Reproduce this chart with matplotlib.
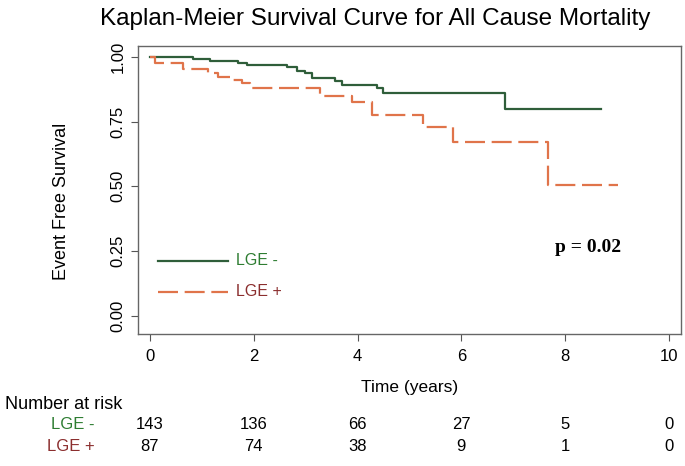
import matplotlib
matplotlib.use("Agg")
import matplotlib.pyplot as plt
import matplotlib.transforms as mtransforms

plt.rcParams["font.family"] = ["Liberation Sans", "DejaVu Sans"]

# Kaplan-Meier steps
neg_time = [0, 0.83, 1.16, 1.70, 1.87, 2.64, 2.83, 2.99, 3.12, 3.56, 3.70, 4.37, 4.49, 6.84, 8.70]
neg_surv = [1.0, 0.992, 0.985, 0.978, 0.969, 0.959, 0.946, 0.937, 0.920, 0.905, 0.892, 0.879, 0.862, 0.80, 0.80]
pos_time = [0, 0.10, 0.64, 1.12, 1.31, 1.54, 1.77, 1.93, 3.28, 3.89, 4.28, 5.26, 5.84, 7.67, 9.02]
pos_surv = [1.0, 0.978, 0.953, 0.939, 0.924, 0.911, 0.898, 0.879, 0.847, 0.824, 0.776, 0.731, 0.671, 0.505, 0.505]

risk_times = [0, 2, 4, 6, 8, 10]
risk_neg = [143, 136, 66, 27, 5, 0]
risk_pos = [87, 74, 38, 9, 1, 0]

GREEN = "#2f5e3a"
ORANGE = "#e0744a"
GREEN_TXT = "#2e7d32"
RED_TXT = "#8b2e2e"

fig = plt.figure(figsize=(6.85, 4.66), dpi=100)
ax = fig.add_axes([0.2015, 0.2833, 0.7925, 0.618])

ax.step(neg_time, neg_surv, where="post", color=GREEN, lw=1.6)
ax.step(pos_time, pos_surv, where="post", color=ORANGE, lw=1.6, dashes=(9, 3))

ax.set_xlim(-0.23, 10.23)
ax.set_ylim(-0.07, 1.042)
ax.set_xticks(risk_times)
ax.set_yticks([0, 0.25, 0.5, 0.75, 1.0])
ax.set_yticklabels(["0.00", "0.25", "0.50", "0.75", "1.00"], rotation=90, va="center")
ax.tick_params(labelsize=12, length=5, color="#555555", pad=4)
ax.tick_params(axis="x", pad=6)
for s in ax.spines.values():
    s.set_color("#666666")
    s.set_linewidth(1.0)

ax.set_xlabel("Time (years)", fontsize=12.5)
ax.xaxis.set_label_coords(0.5, -0.16)
ax.set_ylabel("Event Free Survival", fontsize=13)
ax.yaxis.set_label_coords(-0.125, 0.46)
fig.text(0.547, 0.96, "Kaplan-Meier Survival Curve for All Cause Mortality",
         ha="center", va="center", fontsize=17.5)

# legend drawn by hand like the R plot
ax.plot([0.15, 1.5], [0.212, 0.212], color=GREEN, lw=1.6)
ax.plot([0.15, 1.5], [0.093, 0.093], color=ORANGE, lw=1.6, dashes=(9, 3))
ax.text(1.66, 0.212, "LGE -", color=GREEN_TXT, fontsize=11.5, va="center")
ax.text(1.66, 0.093, "LGE +", color=RED_TXT, fontsize=11.5, va="center")

ax.text(8.44, 0.263, "p = 0.02", fontsize=14, fontweight="bold",
        family=["Liberation Serif"], ha="center", va="center")

# number at risk table
trans = mtransforms.blended_transform_factory(ax.transData, fig.transFigure)
fig.text(0.007, 0.133, "Number at risk", fontsize=13, va="center")
fig.text(0.138, 0.088, "LGE -", color=GREEN_TXT, fontsize=12, va="center", ha="right")
fig.text(0.138, 0.041, "LGE +", color=RED_TXT, fontsize=12, va="center", ha="right")
for t, n1, n2 in zip(risk_times, risk_neg, risk_pos):
    ax.text(t, 0.088, str(n1), transform=trans, fontsize=12, ha="center", va="center", clip_on=False)
    ax.text(t, 0.041, str(n2), transform=trans, fontsize=12, ha="center", va="center", clip_on=False)

fig.savefig("out.png", dpi=100)
